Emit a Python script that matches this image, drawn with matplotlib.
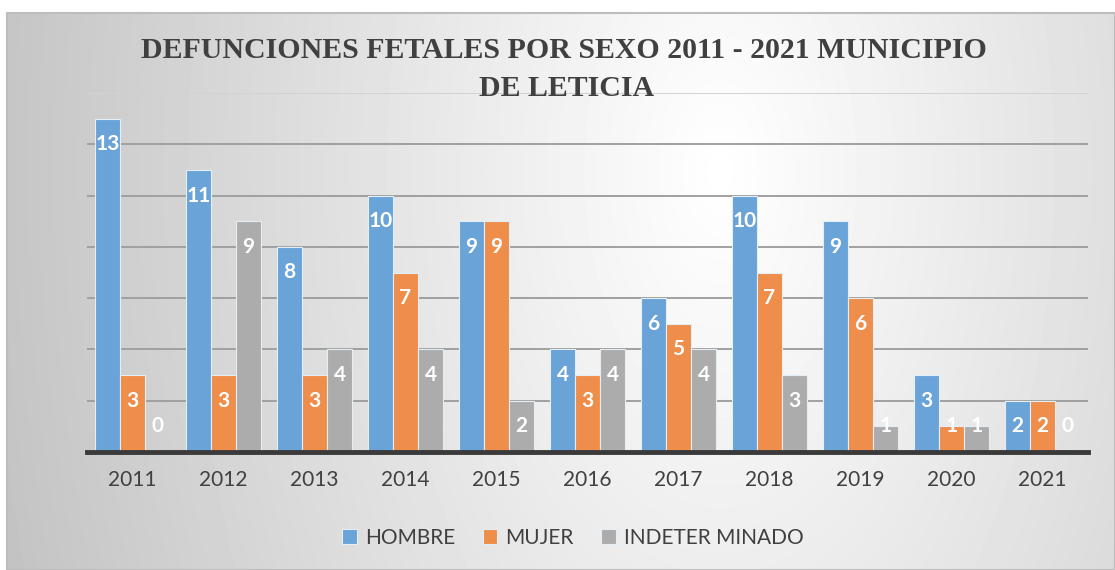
"""
Defunciones fetales por sexo 2011 - 2021, municipio de Leticia.
Grouped bar chart with a soft gray gradient background.
"""

import numpy as np
import matplotlib
matplotlib.use("Agg")
import matplotlib.pyplot as plt
from matplotlib.patches import Rectangle

years = ["2011", "2012", "2013", "2014", "2015", "2016", "2017", "2018", "2019", "2020", "2021"]
hombre = [13, 11, 8, 10, 9, 4, 6, 10, 9, 3, 2]
mujer = [3, 3, 3, 7, 9, 3, 5, 7, 6, 1, 2]
indeterminado = [0, 9, 4, 4, 2, 4, 4, 3, 1, 1, 0]
series_names = ["HOMBRE", "MUJER", "INDETER MINADO"]
colors = ["#6aa3d8", "#ef8d4b", "#acacac"]

W, H = 1115, 570
fig = plt.figure(figsize=(W / 100, H / 100), dpi=100)

# background: white margin + elliptical gray gradient inside a thin frame
bg = fig.add_axes([0, 0, 1, 1], zorder=-2)
bg.set_xlim(0, W)
bg.set_ylim(H, 0)
bg.axis("off")
xx, yy = np.meshgrid(np.arange(7, W), np.arange(13, H))
d = np.hypot(xx - 720, (yy - 170) * 0.55) / 760
shade = 1.0 - 0.24 * np.clip(d, 0, 1)
bg.imshow(shade, cmap="gray", vmin=0, vmax=1, extent=(7, W, H, 13),
          aspect="auto", interpolation="bilinear")
bg.add_patch(Rectangle((7, 13), W - 7, H - 13, fill=False, edgecolor="#bdbdbd", lw=1.5))

ax = fig.add_axes([87 / W, (H - 452) / H, (1088 - 87) / W, (452 - 93) / H])
ax.patch.set_alpha(0)

x = np.arange(len(years))
bw = 0.275
for i, (vals, name, col) in enumerate(zip([hombre, mujer, indeterminado], series_names, colors)):
    pos = x + (i - 1) * bw
    ax.bar(pos, vals, width=bw, color=col, edgecolor="#e4eef7", linewidth=0.8,
           label=name, zorder=3)
    for px, v in zip(pos, vals):
        ax.text(px, max(v - 1.0, 1.0), str(v), ha="center", va="center",
                color="white", fontsize=15, fontweight="bold", family="Lato", zorder=4)

ax.set_xlim(-0.5, len(years) - 0.5)
ax.set_ylim(0, 14)
ax.set_yticks(np.arange(2, 15, 2))
ax.yaxis.grid(True, color="#a0a0a0", linewidth=1.4, zorder=1)
# the top gridline sits behind the title and is much fainter
ax.get_ygridlines()[-1].set_color("#d2d2d2")
ax.tick_params(axis="y", left=False, labelleft=False)
ax.set_xticks(x)
ax.set_xticklabels(years, fontsize=15, color="#404040", family="Lato")
ax.tick_params(axis="x", length=0, pad=13)
for s in ["top", "right", "left"]:
    ax.spines[s].set_visible(False)
ax.spines["bottom"].set_color("#3a3a3a")
ax.spines["bottom"].set_linewidth(3.5)
ax.spines["bottom"].set_zorder(5)

title_kw = dict(ha="center", va="center", fontsize=21.5, fontweight="bold",
                family="Liberation Serif", color="#404040")
fig.text(564 / W, 1 - 51 / H, "DEFUNCIONES FETALES POR SEXO 2011 - 2021 MUNICIPIO", **title_kw)
fig.text(567 / W, 1 - 89 / H, "DE LETICIA", **title_kw)

leg = fig.legend(loc="center", bbox_to_anchor=(573 / W, 1 - 538 / H), ncol=3,
                 frameon=False, handlelength=0.7, handleheight=0.7,
                 columnspacing=1.3, handletextpad=0.4, prop={"family": "Lato", "size": 15})
for t in leg.get_texts():
    t.set_color("#404040")

fig.savefig("out.png", dpi=100)
